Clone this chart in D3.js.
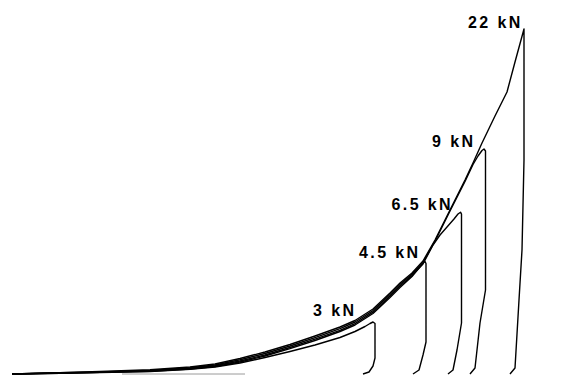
<!DOCTYPE html>
<html>
<head>
<meta charset="utf-8">
<script src="https://cdn.jsdelivr.net/npm/d3@7"></script>
<style>
  html, body { margin: 0; padding: 0; background: #fff; }
  svg { display: block; }
  .lbl { font-family: "Liberation Sans", Arial, sans-serif; font-weight: bold; font-size: 16px; letter-spacing: 2.4px; fill: #000; }
</style>
</head>
<body>
<svg id="chart" width="568" height="375"></svg>
<script>
// Load / unload cycles: displacement (mm) against response, one cycle per peak load.
const seriesNames = ["3 kN", "4.5 kN", "6.5 kN", "9 kN", "22 kN"];

const disp3 = [0, 0.48, 0.88, 1.38, 1.78, 2.03, 2.28, 2.53, 2.78, 3.03, 3.28, 3.43, 3.53, 3.58, 3.61, 3.63, 3.63, 3.61, 3.57, 3.51];
const resp3 = [0, 0.07, 0.14, 0.25, 0.46, 0.70, 1.10, 1.65, 2.25, 2.90, 3.65, 4.25, 4.75, 5.05, 5.20, 5.05, 1.60, 0.80, 0.20, 0];

const disp45 = [0, 0.48, 0.88, 1.38, 1.78, 2.03, 2.28, 2.53, 2.78, 3.03, 3.28, 3.43, 3.61, 3.78, 3.88, 4.00, 4.07, 4.11, 4.13, 4.14, 4.14, 4.11, 4.07, 4.01];
const resp45 = [0, 0.08, 0.16, 0.28, 0.50, 0.75, 1.20, 1.80, 2.53, 3.35, 4.25, 4.90, 6.05, 7.65, 8.65, 9.75, 10.60, 11.10, 11.25, 11.05, 3.20, 1.90, 0.40, 0];

const disp65 = [0, 0.48, 0.88, 1.38, 1.78, 2.03, 2.28, 2.53, 2.78, 3.03, 3.28, 3.43, 3.61, 3.78, 3.88, 4.00, 4.11, 4.21, 4.28, 4.35, 4.42, 4.46, 4.485, 4.495, 4.495, 4.45, 4.41, 4.36];
const resp65 = [0, 0.10, 0.18, 0.31, 0.55, 0.82, 1.30, 1.90, 2.65, 3.48, 4.37, 5.04, 6.18, 7.80, 8.80, 9.84, 11.00, 12.90, 13.90, 14.70, 15.50, 16.00, 16.18, 16.00, 5.10, 2.40, 0.40, 0];

const disp9 = [0, 0.48, 0.88, 1.38, 1.78, 2.03, 2.28, 2.53, 2.78, 3.03, 3.28, 3.43, 3.61, 3.78, 3.88, 4.00, 4.11, 4.23, 4.38, 4.53, 4.61, 4.66, 4.70, 4.72, 4.735, 4.735, 4.68, 4.63, 4.58];
const resp9 = [0, 0.12, 0.21, 0.36, 0.62, 0.90, 1.42, 2.05, 2.80, 3.64, 4.54, 5.20, 6.34, 7.95, 8.96, 9.97, 11.16, 13.28, 16.30, 19.25, 20.95, 21.80, 22.35, 22.50, 22.30, 8.40, 5.10, 0.60, 0];

const disp22 = [0, 0.48, 0.88, 1.38, 1.78, 2.03, 2.28, 2.53, 2.78, 3.03, 3.28, 3.43, 3.61, 3.78, 3.88, 4.00, 4.11, 4.23, 4.38, 4.53, 4.61, 4.70, 4.83, 4.95, 5.03, 5.12, 5.12, 5.10, 5.07, 5.03, 4.98];
const resp22 = [0, 0.14, 0.25, 0.42, 0.70, 1.00, 1.55, 2.20, 2.95, 3.80, 4.70, 5.35, 6.50, 8.10, 9.10, 10.10, 11.30, 13.40, 16.40, 19.40, 21.10, 23.10, 25.80, 28.20, 31.20, 34.50, 21.40, 12.40, 7.40, 0.60, 0];

// Zero-response stretch of the baseline
const baseDisp = [1.10, 2.33];
const baseResp = [0, 0];

const dispSets = [disp3, disp45, disp65, disp9, disp22];
const respSets = [resp3, resp45, resp65, resp9, resp22];

const svg = d3.select("#chart");
const x = d3.scaleLinear().domain([0, 5.12]).range([12, 524]);
const y = d3.scaleLinear().domain([0, 34.5]).range([374, 29]);

const line = d3.line().x(d => x(d[0])).y(d => y(d[1])).curve(d3.curveLinear);

svg.append("path")
  .datum(d3.zip(baseDisp, baseResp))
  .attr("d", line)
  .attr("fill", "none")
  .attr("stroke", "#9a9a9a")
  .attr("stroke-width", 1);

const cycles = seriesNames.map((name, i) => ({
  name,
  pts: d3.zip(dispSets[i], respSets[i])
}));

svg.selectAll("path.cycle")
  .data(cycles)
  .join("path")
  .attr("class", "cycle")
  .attr("d", d => line(d.pts))
  .attr("fill", "none")
  .attr("stroke", "#000")
  .attr("stroke-width", 1.4)
  .attr("stroke-linejoin", "round");

// Label placement relative to each cycle's peak (pixels)
const labelOffset = [[-60, -6], [-66, -3.5], [-69, -2], [-52, -2], [-56, -1]];

svg.selectAll("text.lbl")
  .data(cycles)
  .join("text")
  .attr("class", "lbl")
  .attr("x", (d, i) => {
    const peak = d3.greatest(d.pts, p => p[1]);
    return x(peak[0]) + labelOffset[i][0];
  })
  .attr("y", (d, i) => {
    const peak = d3.greatest(d.pts, p => p[1]);
    return y(peak[1]) + labelOffset[i][1];
  })
  .text(d => d.name);
</script>
</body>
</html>
